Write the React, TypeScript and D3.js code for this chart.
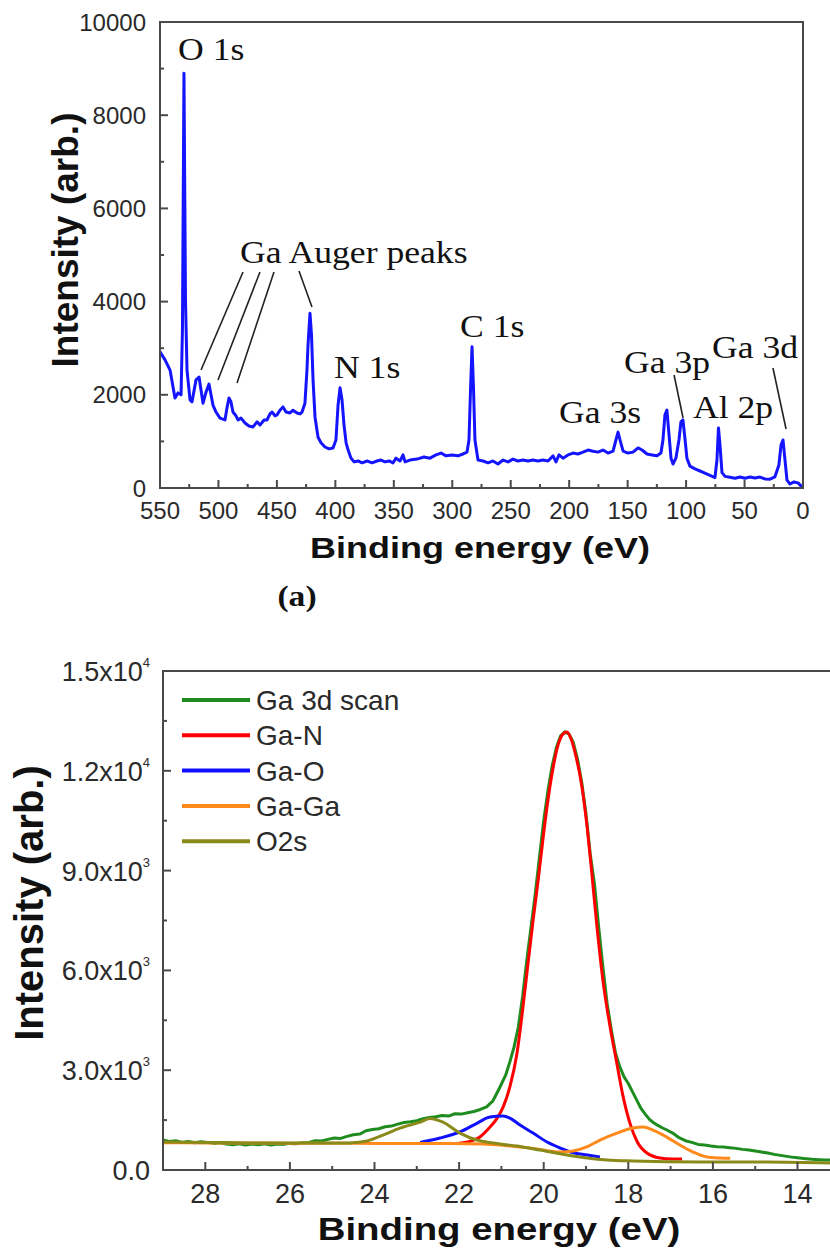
import React from 'react';
import * as d3 from 'd3';

// ---------- (a) XPS survey spectrum: [binding energy (eV), intensity] ----------
const surveySpectrum: [number, number][] = [
  [550, 2920], [545.7, 2750], [541.4, 2530], [537.2, 1930], [534.6, 2040], [532.0, 2000],
  [530.8, 3390], [529.5, 8900], [528.2, 4030], [526.9, 2530], [524.3, 1890], [522.6, 1850],
  [519.2, 2320], [516.6, 2380], [513.2, 1820], [510.6, 2060], [508.1, 2230], [504.7, 1780],
  [502.1, 1630], [498.7, 1500], [494.4, 1460], [492.7, 1720], [491.0, 1930], [489.3, 1850],
  [487.6, 1630], [485.0, 1550], [483.3, 1460], [480.7, 1500], [477.3, 1395], [473.9, 1330],
  [470.4, 1310], [467.0, 1420], [464.5, 1350], [461.0, 1460], [458.5, 1460], [455.9, 1590],
  [454.2, 1630], [451.6, 1550], [449.9, 1570], [447.4, 1670], [444.8, 1740], [442.2, 1630],
  [438.8, 1610], [436.2, 1670], [432.8, 1610], [430.2, 1590], [428.5, 1630], [426.0, 1820],
  [424.3, 2530], [423.4, 3070], [421.7, 3750], [420.4, 3280], [419.1, 2320], [417.4, 1520],
  [414.8, 1090], [412.3, 970], [408.9, 880], [405.4, 840], [402.0, 860], [399.5, 1030],
  [397.7, 1780], [396.0, 2150], [394.3, 1890], [392.6, 1350], [390.8, 970], [389.1, 815],
  [386.6, 640], [384.0, 560], [380.6, 580], [377.2, 540], [372.9, 580], [368.7, 540],
  [364.4, 580], [361.0, 600], [357.5, 560], [354.1, 580], [350.7, 540], [348.1, 640],
  [344.7, 580], [342.1, 710], [340.4, 560], [336.2, 600], [330.2, 620], [324.2, 665],
  [319.1, 640], [313.9, 710], [309.6, 750], [305.4, 690], [300.2, 710], [295.1, 690],
  [290.8, 730], [287.4, 770], [285.7, 1030], [284.4, 2100], [283.1, 3030], [281.8, 2100],
  [280.6, 1030], [278.0, 600], [273.7, 580], [269.4, 540], [265.2, 580], [260.9, 515],
  [256.6, 600], [252.3, 560], [248.1, 620], [243.8, 580], [239.5, 600], [235.2, 580],
  [231.0, 600], [226.7, 580], [222.4, 600], [218.1, 580], [213.8, 690], [211.3, 560],
  [208.7, 710], [205.3, 640], [201.0, 710], [196.7, 750], [192.5, 730], [188.2, 770],
  [183.9, 815], [179.6, 790], [175.4, 770], [171.1, 815], [166.8, 750], [162.5, 790],
  [160.0, 1030], [158.2, 1200], [156.5, 1030], [153.9, 790], [149.7, 750], [145.4, 770],
  [141.1, 860], [137.7, 815], [133.4, 730], [129.2, 710], [124.9, 690], [121.5, 750],
  [119.8, 1030], [118.1, 1570], [116.4, 1670], [114.6, 1140], [112.9, 640], [111.2, 515],
  [108.7, 640], [106.1, 1030], [104.4, 1420], [102.7, 1460], [101.0, 1070], [99.3, 640],
  [96.7, 470], [92.4, 410], [88.1, 365], [83.9, 320], [79.6, 270], [75.3, 225],
  [73.6, 600], [72.3, 1290], [71.0, 920], [69.3, 330], [66.7, 250], [62.5, 230],
  [58.2, 210], [53.9, 235], [49.6, 210], [45.3, 235], [41.1, 215], [36.8, 235],
  [32.5, 195], [28.2, 190], [24.0, 240], [20.6, 495], [18.8, 920], [17.1, 1030],
  [15.4, 600], [13.7, 170], [11.1, 85], [7.7, 130], [4.3, 110], [1.7, 45], [0, 20],
];

const surveyXTicks = [550, 500, 450, 400, 350, 300, 250, 200, 150, 100, 50, 0];
const surveyXMinor = [525, 475, 425, 375, 325, 275, 225, 175, 125, 75, 25];
const surveyYTicks = [0, 2000, 4000, 6000, 8000, 10000];
const surveyYMinor = [1000, 3000, 5000, 7000, 9000];

// peak labels anchored at [binding energy, intensity]
const surveyLabels = [
  { text: 'O 1s', be: 534.6, i: 9185 },
  { text: 'Ga Auger peaks', be: 481.6, i: 4828 },
  { text: 'N 1s', be: 401.2, i: 2360 },
  { text: 'C 1s', be: 293.4, i: 3240 },
  { text: 'Ga 3s', be: 208.7, i: 1395 },
  { text: 'Ga 3p', be: 153.1, i: 2468 },
  { text: 'Ga 3d', be: 77.8, i: 2790 },
  { text: 'Al 2p', be: 94.1, i: 1502 },
];

// leader lines from labels to peaks
const surveyLeaders: [number, number][][] = [
  [[479.0, 4635], [514.9, 2532]],
  [[464.5, 4635], [500.4, 2318]],
  [[452.5, 4635], [484.1, 2253]],
  [[431.1, 4657], [420.0, 3884]],
  [[110.3, 2425], [102.6, 1502]],
  [[25.7, 2575], [14.5, 1266]],
];

// ---------- (b) Ga 3d high resolution scan and fitted components ----------
const ga3dScan: [number, number][] = [
  [29.0, 900], [28.85, 860], [28.7, 880], [28.55, 830], [28.4, 860], [28.25, 820],
  [28.1, 850], [27.95, 830], [27.8, 800], [27.65, 820], [27.5, 780], [27.35, 760],
  [27.2, 790], [27.05, 750], [26.9, 780], [26.75, 760], [26.6, 790], [26.45, 750],
  [26.3, 780], [26.15, 770], [26.0, 800], [25.85, 790], [25.7, 820], [25.55, 830],
  [25.4, 880], [25.25, 870], [25.1, 920], [24.95, 960], [24.8, 950], [24.65, 1010],
  [24.5, 1060], [24.35, 1080], [24.2, 1180], [24.05, 1220], [23.9, 1240], [23.75, 1300],
  [23.6, 1320], [23.45, 1380], [23.3, 1430], [23.15, 1450], [23.0, 1480], [22.85, 1540],
  [22.7, 1580], [22.55, 1600], [22.4, 1640], [22.25, 1620], [22.1, 1690], [21.95, 1680],
  [21.8, 1720], [21.65, 1760], [21.5, 1820], [21.35, 1900], [21.2, 2080], [21.05, 2450],
  [20.9, 2850], [20.8, 3250], [20.7, 3700], [20.6, 4300], [20.5, 5200], [20.4, 6300],
  [20.3, 7300], [20.2, 8300], [20.1, 9400], [20.0, 10500], [19.9, 11400], [19.8, 12150],
  [19.7, 12700], [19.6, 13050], [19.5, 13170], [19.4, 13100], [19.3, 12850], [19.2, 12350],
  [19.1, 11650], [19.0, 10700], [18.9, 9500], [18.8, 8600], [18.7, 7300], [18.6, 6100],
  [18.5, 5000], [18.4, 4200], [18.3, 3500], [18.2, 3100], [18.1, 2800], [18.0, 2600],
  [17.9, 2350], [17.8, 2100], [17.7, 1850], [17.6, 1680], [17.5, 1520], [17.4, 1420],
  [17.3, 1340], [17.2, 1270], [17.1, 1210], [16.95, 1110], [16.8, 970], [16.65, 880],
  [16.5, 830], [16.35, 770], [16.2, 750], [16.05, 720], [15.9, 700], [15.75, 690],
  [15.6, 670], [15.45, 650], [15.3, 620], [15.15, 600], [15.0, 570], [14.85, 540],
  [14.7, 510], [14.55, 470], [14.4, 440], [14.25, 410], [14.1, 380], [13.95, 360],
  [13.8, 340], [13.65, 320], [13.5, 310], [13.35, 300], [13.21, 300],
];

const gaNFit: [number, number][] = [
  [22.03, 800], [21.81, 840], [21.51, 990], [21.27, 1290], [21.1, 1560], [20.96, 1890],
  [20.8, 2500], [20.63, 3520], [20.49, 4900], [20.37, 6220], [20.25, 7515], [20.13, 8720],
  [20.02, 9920], [19.9, 11120], [19.78, 12080], [19.66, 12780], [19.54, 13110], [19.45, 13170],
  [19.35, 12950], [19.24, 12450], [19.12, 11700], [19.0, 10600], [18.88, 9150], [18.74, 7300],
  [18.6, 5700], [18.43, 4300], [18.27, 3200], [18.13, 2250], [17.96, 1400], [17.79, 850],
  [17.56, 510], [17.25, 360], [16.97, 330], [16.73, 330],
];

const gaOFit: [number, number][] = [
  [22.92, 830], [22.45, 960], [21.97, 1150], [21.57, 1410], [21.27, 1590], [20.96, 1620],
  [20.8, 1560], [20.56, 1350], [20.25, 1110], [19.92, 840], [19.61, 660], [19.37, 540],
  [18.97, 450], [18.67, 390],
];

const gaGaFit: [number, number][] = [
  [29.0, 820], [28.0, 815], [27.0, 810], [26.0, 805], [25.0, 805], [24.0, 800],
  [23.0, 800], [22.21, 800], [21.43, 780], [21.03, 750], [20.25, 650], [19.61, 540],
  [19.3, 570], [18.97, 700], [18.67, 900], [18.27, 1110], [17.89, 1260], [17.65, 1290],
  [17.42, 1200], [17.09, 990], [16.78, 750], [16.47, 540], [16.14, 390], [15.83, 360],
  [15.59, 350],
];

const o2sFit: [number, number][] = [
  [29.0, 840], [28.0, 830], [27.0, 815], [26.0, 810], [25.0, 810], [24.58, 815],
  [24.18, 870], [23.8, 1050], [23.4, 1260], [22.92, 1440], [22.69, 1550], [22.38, 1440],
  [21.98, 1110], [21.58, 900], [21.2, 810], [20.63, 720], [20.09, 600], [19.45, 450],
  [18.97, 360], [18.5, 300], [17.89, 270], [16.3, 240], [14.72, 240], [13.21, 210],
];

const ga3dXTicks = [28, 26, 24, 22, 20, 18, 16, 14];
const ga3dXMinor = [29, 27, 25, 23, 21, 19, 17, 15, 13];
const ga3dYTicks = [0, 3000, 6000, 9000, 12000, 15000];
const ga3dYMinor = [1500, 4500, 7500, 10500, 13500];

const ga3dSeries = [
  { name: 'Ga 3d scan', data: ga3dScan, color: '#1f8c1f', smooth: false },
  { name: 'Ga-N', data: gaNFit, color: '#ff0000', smooth: true },
  { name: 'Ga-O', data: gaOFit, color: '#1010ff', smooth: true },
  { name: 'Ga-Ga', data: gaGaFit, color: '#ff8a1c', smooth: true },
  { name: 'O2s', data: o2sFit, color: '#8a8a1a', smooth: true },
];

const SANS = '"Liberation Sans", Arial, Helvetica, sans-serif';
const SERIF = '"Liberation Serif", "Times New Roman", Times, serif';
const AXIS = '#4a4a4a';
const TICKTXT = '#2a2a2a';

function sciLabel(v: number) {
  if (v === 0) return { mant: '0.0', exp: '' };
  const e = Math.floor(Math.log10(v));
  return { mant: (v / Math.pow(10, e)).toFixed(1) + 'x10', exp: String(e) };
}

function SurveyPanel() {
  const x = d3.scaleLinear().domain([550, 0]).range([160, 803]);
  const y = d3.scaleLinear().domain([0, 10000]).range([488, 22]);
  const line = d3.line<[number, number]>().x((d) => x(d[0])).y((d) => y(d[1]));
  const [x0, x1] = x.range();
  const [yb, yt] = y.range();
  return (
    <g>
      <path d={line(surveySpectrum) || ''} fill="none" stroke="#1414ff" strokeWidth={3} strokeLinejoin="round" />
      {/* frame */}
      <rect x={x0} y={yt} width={x1 - x0} height={yb - yt} fill="none" stroke={AXIS} strokeWidth={2} />
      {surveyXTicks.map((t) => (
        <g key={'xt' + t}>
          <line x1={x(t)} x2={x(t)} y1={yb} y2={yb - 8} stroke={AXIS} strokeWidth={2} />
          <text x={x(t)} y={519} textAnchor="middle" fontFamily={SANS} fontSize={24} fill={TICKTXT}>{t}</text>
        </g>
      ))}
      {surveyXMinor.map((t) => (
        <line key={'xm' + t} x1={x(t)} x2={x(t)} y1={yb} y2={yb - 4} stroke={AXIS} strokeWidth={2} />
      ))}
      {surveyYTicks.map((t) => (
        <g key={'yt' + t}>
          <line x1={x0} x2={x0 + 8} y1={y(t)} y2={y(t)} stroke={AXIS} strokeWidth={2} />
          <text x={146} y={y(t) + 8.5} textAnchor="end" fontFamily={SANS} fontSize={24} fill={TICKTXT}>{t}</text>
        </g>
      ))}
      {surveyYMinor.map((t) => (
        <line key={'ym' + t} x1={x0} x2={x0 + 4} y1={y(t)} y2={y(t)} stroke={AXIS} strokeWidth={2} />
      ))}
      {surveyLeaders.map((seg, i) => (
        <line key={'ld' + i} x1={x(seg[0][0])} y1={y(seg[0][1])} x2={x(seg[1][0])} y2={y(seg[1][1])} stroke="#222" strokeWidth={1.6} />
      ))}
      {surveyLabels.map((l) => (
        <text key={l.text} transform={`translate(${x(l.be)},${y(l.i)}) scale(1.15,1)`} fontFamily={SERIF} fontSize={31} fill="#111">{l.text}</text>
      ))}
      <text transform="translate(78,240) rotate(-90)" textAnchor="middle" fontFamily={SANS} fontWeight="bold" fontSize={37} fill="#111">Intensity (arb.)</text>
      <text transform="translate(480,558) scale(1.2,1)" textAnchor="middle" fontFamily={SANS} fontWeight="bold" fontSize={30} fill="#111">Binding energy (eV)</text>
      <text transform="translate(297,606) scale(1.12,1)" textAnchor="middle" fontFamily={SERIF} fontWeight="bold" fontSize={30} fill="#111">(a)</text>
    </g>
  );
}

function Ga3dPanel() {
  const x = d3.scaleLinear().domain([29, 13]).range([163, 163 + 16 * 42.3]);
  const y = d3.scaleLinear().domain([0, 15000]).range([1170, 671]);
  const [x0, x1] = x.range();
  const [yb, yt] = y.range();
  const lineRaw = d3.line<[number, number]>().x((d) => x(d[0])).y((d) => y(d[1]));
  const lineSmooth = d3.line<[number, number]>().x((d) => x(d[0])).y((d) => y(d[1])).curve(d3.curveMonotoneX);
  const legendX = 182;
  const legendY = 700;
  const legendStep = 35.3;
  return (
    <g>
      <defs>
        <clipPath id="ga3d-clip">
          <rect x={x0} y={yt} width={x1 - x0} height={yb - yt} />
        </clipPath>
      </defs>
      <g clipPath="url(#ga3d-clip)">
        {ga3dSeries.map((s) => (
          <path key={s.name} d={(s.smooth ? lineSmooth : lineRaw)(s.data) || ''} fill="none" stroke={s.color} strokeWidth={3} strokeLinejoin="round" />
        ))}
      </g>
      <rect x={x0} y={yt} width={x1 - x0} height={yb - yt} fill="none" stroke={AXIS} strokeWidth={2} />
      {ga3dXTicks.map((t) => (
        <g key={'bxt' + t}>
          <line x1={x(t)} x2={x(t)} y1={yb} y2={yb - 8} stroke={AXIS} strokeWidth={2} />
          <text x={x(t)} y={1203} textAnchor="middle" fontFamily={SANS} fontSize={27} fill={TICKTXT}>{t}</text>
        </g>
      ))}
      {ga3dXMinor.map((t) => (
        <line key={'bxm' + t} x1={x(t)} x2={x(t)} y1={yb} y2={yb - 4} stroke={AXIS} strokeWidth={2} />
      ))}
      {ga3dYTicks.map((t) => {
        const lab = sciLabel(t);
        return (
          <g key={'byt' + t}>
            <line x1={x0} x2={x0 + 8} y1={y(t)} y2={y(t)} stroke={AXIS} strokeWidth={2} />
            <text x={150} y={y(t) + 10} textAnchor="end" fontFamily={SANS} fontSize={27} fill={TICKTXT}>
              {lab.mant}
              {lab.exp && <tspan fontSize={13} dy={-14}>{lab.exp}</tspan>}
            </text>
          </g>
        );
      })}
      {ga3dYMinor.map((t) => (
        <line key={'bym' + t} x1={x0} x2={x0 + 4} y1={y(t)} y2={y(t)} stroke={AXIS} strokeWidth={2} />
      ))}
      {ga3dSeries.map((s, i) => (
        <g key={'lg' + s.name}>
          <line x1={legendX} x2={legendX + 68} y1={legendY + i * legendStep} y2={legendY + i * legendStep} stroke={s.color} strokeWidth={4} />
          <text x={legendX + 74} y={legendY + i * legendStep + 10} fontFamily={SANS} fontSize={28} fill={TICKTXT}>{s.name}</text>
        </g>
      ))}
      <text transform="translate(43,903) rotate(-90)" textAnchor="middle" fontFamily={SANS} fontWeight="bold" fontSize={40} fill="#111">Intensity (arb.)</text>
      <text transform="translate(499,1240) scale(1.2,1)" textAnchor="middle" fontFamily={SANS} fontWeight="bold" fontSize={32} fill="#111">Binding energy (eV)</text>
    </g>
  );
}

export default function App() {
  return (
    <svg
      width={830}
      height={1250}
      viewBox="0 0 830 1250"
      style={{ position: 'absolute', left: 0, top: 0, background: '#fff', display: 'block' }}
    >
      <rect x={0} y={0} width={830} height={1250} fill="#fff" />
      <SurveyPanel />
      <Ga3dPanel />
    </svg>
  );
}
